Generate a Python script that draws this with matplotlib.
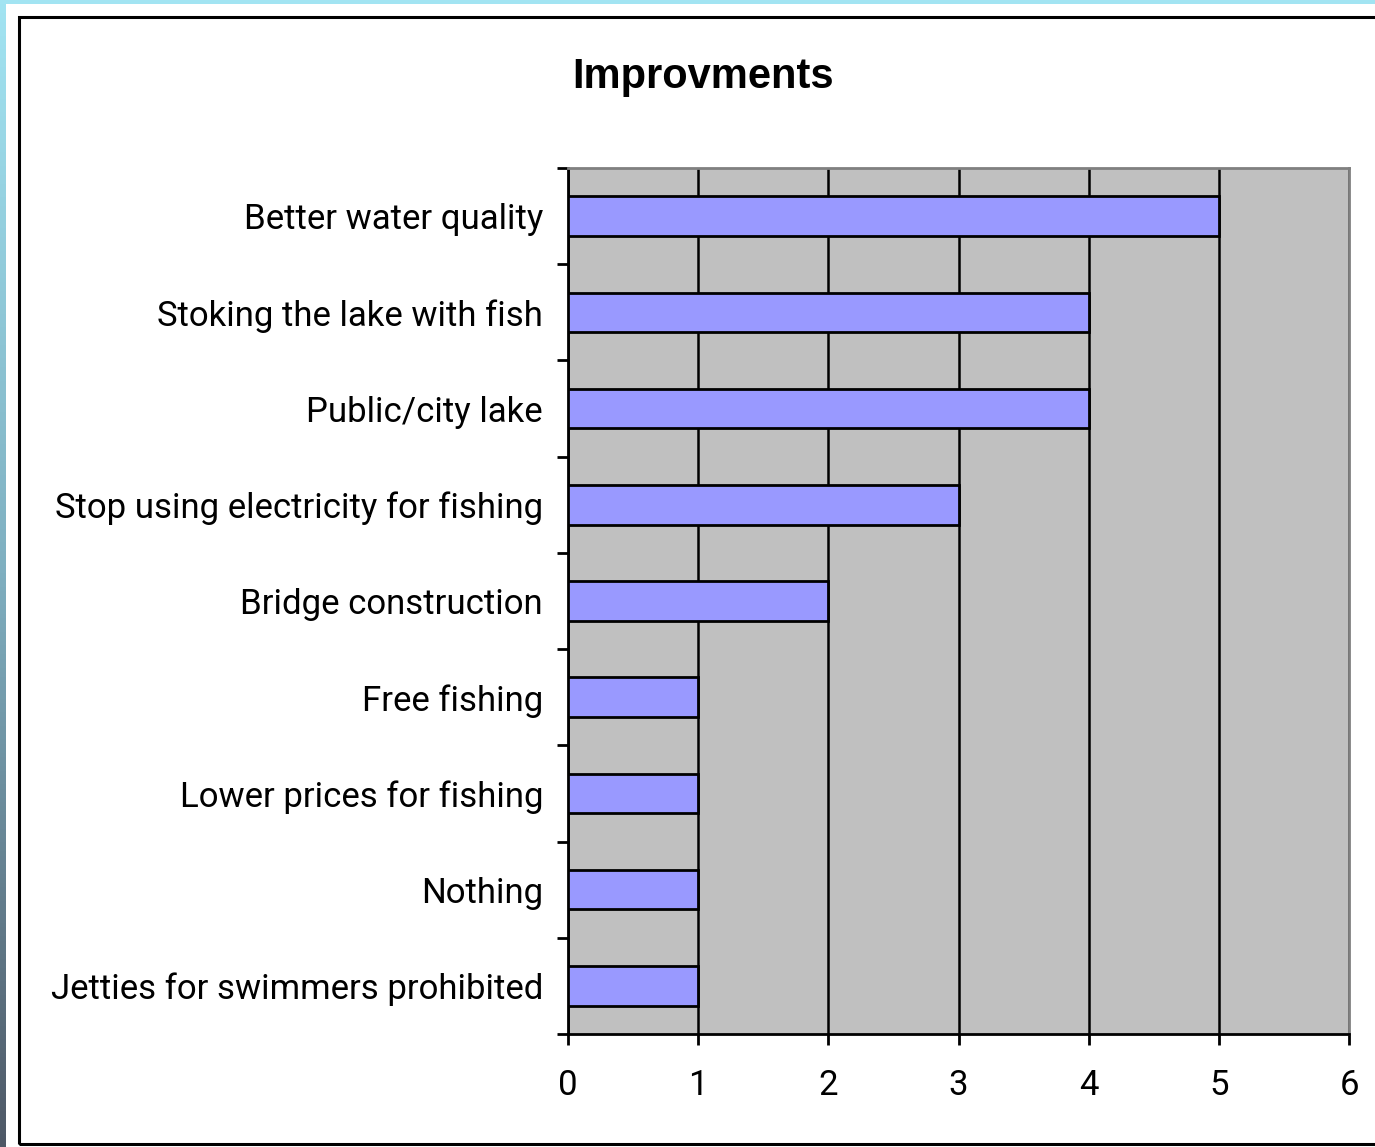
import numpy as np
import matplotlib.pyplot as plt
from matplotlib.patches import Rectangle
from matplotlib.colors import LinearSegmentedColormap

categories = [
    'Better water quality',
    'Stoking the lake with fish',
    'Public/city lake',
    'Stop using electricity for fishing',
    'Bridge construction',
    'Free fishing',
    'Lower prices for fishing',
    'Nothing',
    'Jetties for swimmers prohibited',
]
counts = [5, 4, 4, 3, 2, 1, 1, 1, 1]
x_ticks = [0, 1, 2, 3, 4, 5, 6]

W, H = 1375, 1147
fig = plt.figure(figsize=(W / 100, H / 100), dpi=100, facecolor='white')

# slide frame: cyan strip on top, gradient strip on the left
top = fig.add_axes([0, 1 - 4 / H, 1, 4 / H])
top.axis('off')
top.add_patch(Rectangle((0, 0), 1, 1, color='#A2E4F2'))
left = fig.add_axes([0, 0, 6 / W, 1])
left.axis('off')
grad = np.linspace(0, 1, 256)[:, None]
cmap = LinearSegmentedColormap.from_list('side', ['#A2E4F2', '#7FAFC0', '#4E5866'])
left.imshow(grad, aspect='auto', cmap=cmap, extent=[0, 1, 0, 1], origin='upper')

# black chart border
fig.patches.append(Rectangle((19 / W, 3 / H), 1.0, 1 - 20 / H, transform=fig.transFigure,
                             fill=False, edgecolor='black', lw=2.2, zorder=5))

ax = fig.add_axes([568 / W, 1 - 1034 / H, (1349 - 568) / W, (1034 - 168) / H])
ax.set_facecolor('#C0C0C0')

y = np.arange(len(categories))
ax.barh(y, counts, height=0.41, color='#9999FF', edgecolor='black', lw=2, zorder=3)

ax.set_xlim(0, 6)
ax.set_ylim(len(categories) - 0.5, -0.5)
ax.set_xticks(x_ticks)
ax.set_xticklabels([str(v) for v in x_ticks])
ax.set_yticks(y)
ax.set_yticklabels(categories)
ax.set_yticks(np.arange(len(categories) + 1) - 0.5, minor=True)

ax.grid(axis='x', color='black', lw=1.8, zorder=1)
ax.set_axisbelow(True)

for s in ['top', 'right']:
    ax.spines[s].set_color('#808080')
    ax.spines[s].set_linewidth(2)
for s in ['left', 'bottom']:
    ax.spines[s].set_color('black')
    ax.spines[s].set_linewidth(2)

ax.tick_params(axis='y', which='major', length=0, pad=18, labelsize=25)
ax.tick_params(axis='y', which='minor', length=8, width=2, color='black')
ax.tick_params(axis='x', which='major', length=8, width=2, color='black', pad=17, labelsize=25)
for lab in ax.get_xticklabels() + ax.get_yticklabels():
    lab.set_fontfamily('Roboto')

fig.text(703 / W, 1 - 77 / H, 'Improvments', ha='center', va='center',
         fontsize=30, fontweight='bold', family='Liberation Sans')

fig.savefig('out.png', dpi=100, facecolor='white')
